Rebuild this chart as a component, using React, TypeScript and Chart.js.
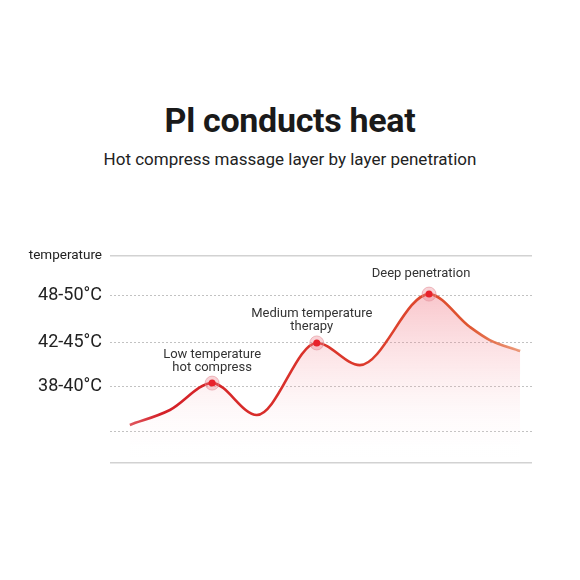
import React, { useEffect, useRef } from "react";
import { Chart, registerables } from "chart.js";

Chart.register(...registerables);

// ---- data ----
const curveX = [4.7, 14.2, 24.2, 34.8, 49, 59.2, 75.6, 85.3, 90, 97.2];
const curveY = [18.4, 25.6, 38.6, 23.2, 58, 47.3, 81.6, 65.7, 59.4, 54.1];
const peakIndex = [2, 4, 6];
const peakLabels = [
  ["Low temperature", "hot compress"],
  ["Medium temperature", "therapy"],
  ["Deep penetration"],
];
const tickValues = [0, 15, 37, 58, 81, 100];
const tickLabels = ["", "", "38-40°C", "42-45°C", "48-50°C", "temperature"];
const titleText = "Pl conducts heat";
const subtitleText = "Hot compress massage layer by layer penetration";

const FONT = "Roboto, 'Noto Sans', sans-serif";

export default function App() {
  const ref = useRef<HTMLCanvasElement | null>(null);

  useEffect(() => {
    if (!ref.current) return;
    const curve = curveX.map((x, i) => ({ x, y: curveY[i] }));
    const peaks = peakIndex.map((i) => ({ x: curveX[i], y: curveY[i] }));

    const labelPlugin = {
      id: "peakLabels",
      afterDatasetsDraw(chart: any) {
        const meta = chart.getDatasetMeta(0);
        const ctx = chart.ctx;
        const dxs = [0, -5, -8];
        const gaps = [15, 16, 20];
        ctx.save();
        ctx.font = `13px ${FONT}`;
        ctx.fillStyle = "#333";
        ctx.textAlign = "center";
        ctx.textBaseline = "middle";
        meta.data.forEach((pt: any, i: number) => {
          const lines = peakLabels[i];
          const n = lines.length;
          lines.forEach((ln, j) => {
            ctx.fillText(ln, pt.x + dxs[i], pt.y - gaps[i] - (n - 1 - j) * 13.5);
          });
        });
        ctx.restore();
      },
    };

    const chart = new Chart(ref.current, {
      type: "line",
      data: {
        datasets: [
          {
            data: peaks,
            showLine: false,
            pointRadius: 3.5,
            pointBackgroundColor: "#e8222c",
            pointBorderWidth: 0,
            pointHoverRadius: 3.5,
          },
          {
            data: peaks,
            showLine: false,
            pointRadius: 7,
            pointBackgroundColor: "rgba(236,130,140,0.35)",
            pointBorderColor: "rgba(225,140,150,0.55)",
            pointBorderWidth: 1,
          },
          {
            data: curve,
            cubicInterpolationMode: "monotone",
            borderWidth: 2.6,
            pointRadius: 0,
            fill: "start",
            borderColor: (c: any) => {
              const ca = c.chart.chartArea;
              if (!ca) return "#d8282e";
              const g = c.chart.ctx.createLinearGradient(ca.left, 0, ca.right, 0);
              g.addColorStop(0, "rgba(215,35,45,0.6)");
              g.addColorStop(0.12, "#d42028");
              g.addColorStop(0.6, "#dc3a2c");
              g.addColorStop(0.85, "#df5530");
              g.addColorStop(1, "rgba(228,120,70,0.6)");
              return g;
            },
            backgroundColor: (c: any) => {
              const ca = c.chart.chartArea;
              if (!ca) return "rgba(240,120,130,0.2)";
              const g = c.chart.ctx.createLinearGradient(0, ca.top + 35, 0, ca.bottom);
              g.addColorStop(0, "rgba(238,100,115,0.38)");
              g.addColorStop(0.45, "rgba(245,150,160,0.2)");
              g.addColorStop(1, "rgba(255,255,255,0)");
              return g;
            },
          },
        ],
      },
      options: {
        responsive: false,
        animation: false,
        layout: { padding: { left: 10, right: 48, top: 256, bottom: 117 } },
        plugins: { legend: { display: false }, tooltip: { enabled: false } },
        scales: {
          x: { type: "linear", display: false, min: 0, max: 100 },
          y: {
            min: 0,
            max: 100,
            afterFit: (s: any) => {
              s.width = 100;
            },
            afterBuildTicks: (s: any) => {
              s.ticks = tickValues.map((v) => ({ value: v }));
            },
            ticks: {
              padding: 8,
              autoSkip: false,
              callback: (v: any) => {
                const i = tickValues.indexOf(Number(v));
                return i >= 0 ? tickLabels[i] : "";
              },
              color: "#222",
              font: (c: any) =>
                c.tick && c.tick.value === 100
                  ? { family: FONT, size: 13.5 }
                  : { family: FONT, size: 18 },
            },
            grid: {
              drawTicks: false,
              color: (c: any) =>
                c.tick && (c.tick.value === 0 || c.tick.value === 100) ? "#d2d2d2" : "#c2c2c2",
              lineWidth: (c: any) =>
                c.tick && (c.tick.value === 0 || c.tick.value === 100) ? 1.6 : 1,
            },
            border: {
              display: false,
              dash: (c: any) =>
                c.tick && (c.tick.value === 0 || c.tick.value === 100) ? [] : [2, 2],
            },
          },
        },
      },
      plugins: [labelPlugin],
    } as any);
    return () => chart.destroy();
  }, []);

  return (
    <div
      style={{
        position: "fixed",
        left: 0,
        top: 0,
        width: 580,
        height: 580,
        background: "#fff",
      }}
    >
      <div
        style={{
          position: "absolute",
          left: 0,
          width: 580,
          top: 100,
          textAlign: "center",
          fontFamily: FONT,
          fontWeight: 700,
          fontSize: 34,
          lineHeight: "40px",
          color: "#1a1a1a",
          letterSpacing: -0.3,
        }}
      >
        {titleText}
      </div>
      <div
        style={{
          position: "absolute",
          left: 0,
          width: 580,
          top: 148,
          textAlign: "center",
          fontFamily: FONT,
          fontSize: 17,
          lineHeight: "22px",
          color: "#222",
        }}
      >
        {subtitleText}
      </div>
      <canvas ref={ref} width={580} height={580} style={{ position: "absolute", left: 0, top: 0 }} />
    </div>
  );
}
